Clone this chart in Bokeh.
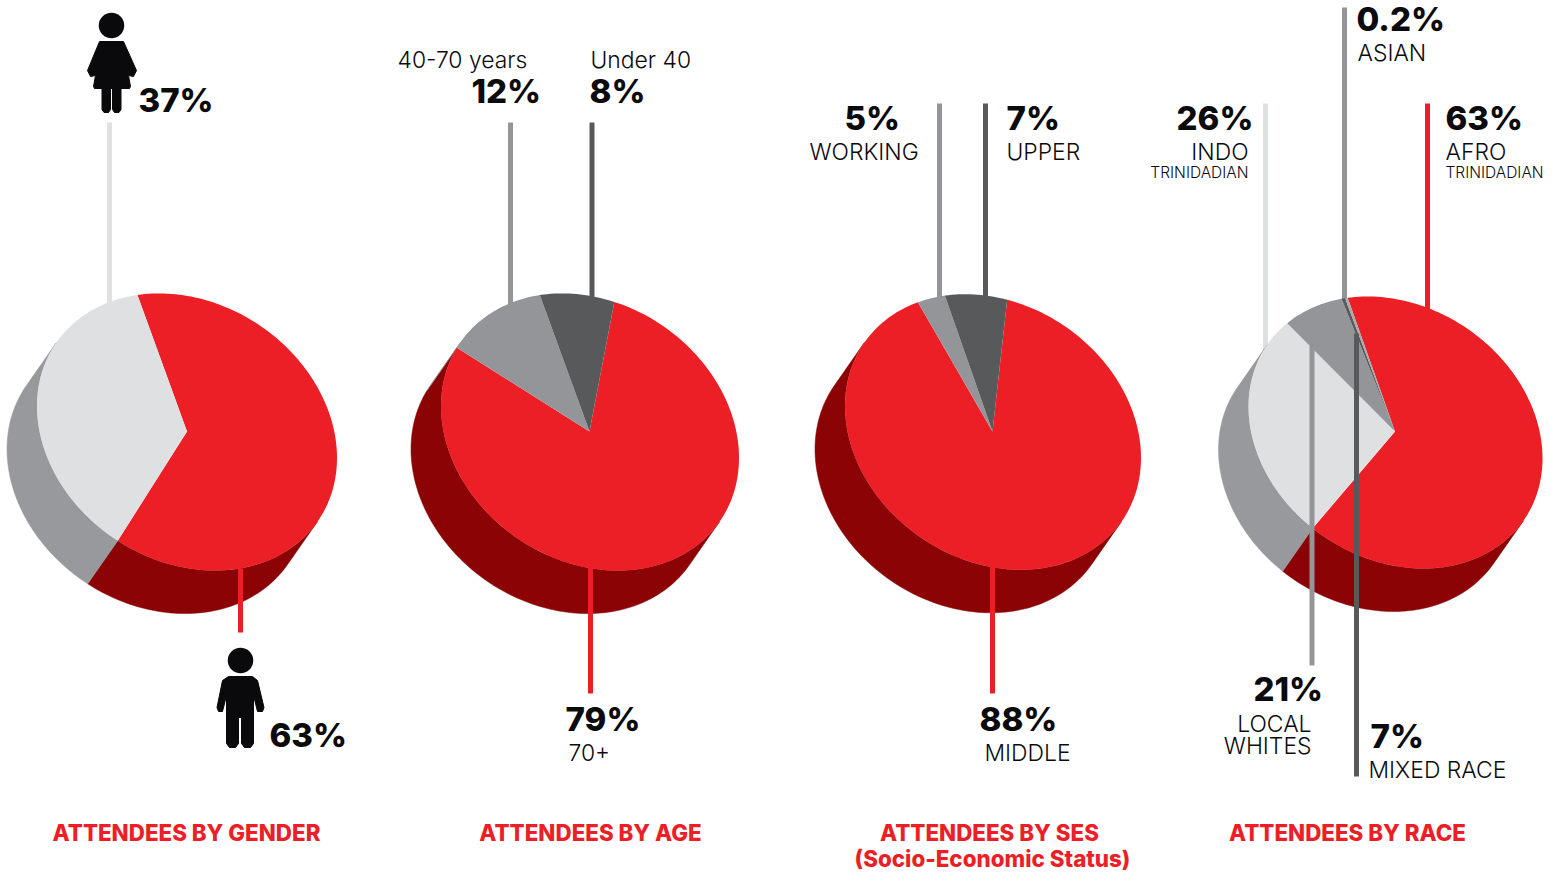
import numpy as np
from bokeh.plotting import figure
from bokeh.models import Range1d, ColumnDataSource
from bokeh.embed import file_html
from bokeh.resources import INLINE

# ---- data ----
gender_shares = [63, 37]
age_shares = [79, 12, 8]
ses_shares = [90, 3.2, 6.8]
race_shares = [64.8, 27.3, 7.2, 0.4, 0.3]

RED, DARKRED, LIGHT, MID, DARK, SIDE = "#EC1F27", "#8B0304", "#DFE0E2", "#939598", "#58595B", "#98999C"
gender_colors = [RED, LIGHT]
age_colors = [RED, MID, DARK]
ses_colors = [RED, MID, DARK]
race_colors = [RED, LIGHT, MID, DARK, "#A7A9AC"]

# centre x, centre y, half width, half height, apex x, shares, colours, start angle
pies = [
    (186.5, 431.5, 150.0, 138.6, 186.5, gender_shares, gender_colors, -109.3),
    (589.5, 431.5, 149.0, 138.6, 589.0, age_shares, age_colors, -80.6),
    (992.5, 431.5, 148.0, 137.8, 992.0, ses_shares, ses_colors, -84.5),
    (1395.0, 432.0, 147.0, 136.0, 1394.5, race_shares, race_colors, -109.0),
]

NUM, LAB, HEAD = 33, 22.9, 22.35
SMALL = 15.5
LF, BF = "Inter Light", "Inter ExtraBold"
BLACK = "#0B0B0D"
# text, x, y, align, size, font, color
labels = [
    ("37%", 138, 99, "left", NUM, BF, BLACK),
    ("63%", 269, 734, "left", NUM, BF, BLACK),
    ("40-70 years", 397, 59, "left", LAB, LF, BLACK),
    ("12%", 471, 90, "left", NUM, BF, BLACK),
    ("Under 40", 590, 59, "left", LAB, LF, BLACK),
    ("8%", 589, 90, "left", NUM, BF, BLACK),
    ("79%", 565, 718, "left", NUM, BF, BLACK),
    ("70+", 568, 752, "left", LAB, LF, BLACK),
    ("5%", 844, 117, "left", NUM, BF, BLACK),
    ("WORKING", 809, 151, "left", LAB, LF, BLACK),
    ("7%", 1006, 117, "left", NUM, BF, BLACK),
    ("UPPER", 1006, 151, "left", LAB, LF, BLACK),
    ("88%", 979, 718, "left", NUM, BF, BLACK),
    ("MIDDLE", 984, 752, "left", LAB, LF, BLACK),
    ("26%", 1176, 117, "left", NUM, BF, BLACK),
    ("INDO", 1248, 151, "right", LAB, LF, BLACK),
    ("TRINIDADIAN", 1248, 172, "right", SMALL, LF, BLACK),
    ("63%", 1445, 117, "left", NUM, BF, BLACK),
    ("AFRO", 1445, 151, "left", LAB, LF, BLACK),
    ("TRINIDADIAN", 1445, 172, "left", SMALL, LF, BLACK),
    ("0.2%", 1356, 18, "left", NUM, BF, BLACK),
    ("ASIAN", 1357, 52, "left", LAB, LF, BLACK),
    ("21%", 1253, 688, "left", NUM, BF, BLACK),
    ("LOCAL", 1311, 723, "right", LAB, LF, BLACK),
    ("WHITES", 1311, 745, "right", LAB, LF, BLACK),
    ("7%", 1370, 735, "left", NUM, BF, BLACK),
    ("MIXED RACE", 1368, 769, "left", LAB, LF, BLACK),
    ("ATTENDEES BY GENDER", 186, 832, "center", HEAD, BF, RED),
    ("ATTENDEES BY AGE", 590, 832, "center", HEAD, BF, RED),
    ("ATTENDEES BY SES", 989, 832, "center", HEAD, BF, RED),
    ("(Socio-Economic Status)", 992, 858, "center", HEAD, BF, RED),
    ("ATTENDEES BY RACE", 1347, 832, "center", HEAD, BF, RED),
]

# leader lines: x, y0, y1, color
lines_behind = [
    (109, 122, 305, LIGHT),
    (510, 122, 308, MID),
    (591.5, 122, 300, DARK),
    (939, 103, 302, MID),
    (985, 103, 300, DARK),
    (1265, 103, 350, LIGHT),
    (1344, 7, 300, MID),
    (1427, 103, 312, RED),
]
lines_front = [
    (240, 568, 632, RED),
    (590, 566, 693, RED),
    (992, 564, 693, RED),
    (1311.5, 345, 665, MID),
    (1356, 333, 776, DARK),
]

# ---- page-pixel coordinate figure ----
W, H = 1556, 873
p = figure(width=W, height=H, x_range=Range1d(0, W), y_range=Range1d(H, 0),
           output_backend="svg", toolbar_location=None,
           x_axis_location=None, y_axis_location=None, min_border=0,
           outline_line_color=None, background_fill_color=None, border_fill_color=None)
p.grid.visible = False


def seg(rows):
    p.segment([r[0] for r in rows], [r[1] for r in rows], [r[0] for r in rows], [r[2] for r in rows],
              line_color=[r[3] for r in rows], line_width=5, line_cap="butt")


seg(lines_behind)

# tilted disc: an affine image of a circle
SKEW = 25.85
DEPTH = (-30.0, 43.0)


def rim(cx, cy, rx, ry, deg):
    t = np.radians(deg)
    return cx + rx * np.cos(t), cy + SKEW * np.cos(t) + np.sqrt(ry ** 2 - SKEW ** 2) * np.sin(t)


for cx, cy, rx, ry, apex, shares, colors, start in pies:
    L22 = np.sqrt(ry ** 2 - SKEW ** 2)
    # rim angles between which the wall faces the viewer
    T0 = np.degrees(np.arctan2(L22 * DEPTH[0], -rx * DEPTH[1] + SKEW * DEPTH[0])) % 180
    T1 = T0 + 180
    s = np.array(shares, dtype=float)
    sweeps = s / s.sum() * 360
    edges = start + np.concatenate([[0], np.cumsum(sweeps)])
    # side walls: one simple polygon per wedge, front-facing part only
    xs, ys, cs = [], [], []
    for a0, a1, c in zip(edges[:-1], edges[1:], colors):
        wall = DARKRED if c == RED else SIDE
        for k in (-360, 0, 360):
            b0, b1 = max(a0, T0 + k), min(a1, T1 + k)
            if b1 <= b0:
                continue
            ang = np.linspace(b0, b1, max(2, int((b1 - b0) / 1.5) + 2))
            x, y = rim(cx, cy, rx, ry, ang)
            xs.append(list(x) + list((x + DEPTH[0])[::-1]))
            ys.append(list(y) + list((y + DEPTH[1])[::-1]))
            cs.append(wall)
    p.patches(xs, ys, fill_color=cs, line_color=cs, line_width=0.5)
    # top face
    xs, ys = [], []
    for a0, a1 in zip(edges[:-1], edges[1:]):
        ang = np.linspace(a0, a1, max(2, int((a1 - a0) / 1.5) + 2))
        x, y = rim(cx, cy, rx, ry, ang)
        xs.append([apex] + list(x))
        ys.append([431.0] + list(y))
    p.patches(xs, ys, fill_color=colors, line_color=None)

seg(lines_front)

# pictograms
ICON = "#0A0A0C"
p.ellipse([111, 240], [25, 660], width=25.5, height=25.5, fill_color=ICON, line_color=None)
dress_x = [99, 123, 136, 133, 128, 130, 129, 94, 93, 95, 90, 87]
dress_y = [41, 41, 70, 76, 75, 86, 88, 88, 86, 75, 76, 70]
man_x = [228, 252, 257, 263.5, 262, 257, 253, 253, 250, 244, 241, 241, 238, 238, 235, 229, 226, 226, 222, 218, 216.5, 222]
man_y = [676, 676, 680, 707, 711, 711, 695, 743, 747, 747, 743, 717, 717, 743, 747, 747, 743, 695, 711, 711, 707, 680]
leg1_x = [101.5, 110, 110, 108, 103.5, 101.5]
leg2_x = [112, 120.5, 120.5, 118.5, 114, 112]
leg_y = [87, 87, 109, 112, 112, 109]
p.patches([dress_x, man_x, leg1_x, leg2_x], [dress_y, man_y, leg_y, leg_y], fill_color=ICON, line_color=ICON, line_width=1, line_join="round")

src = ColumnDataSource(dict(
    text=[r[0] for r in labels], x=[r[1] for r in labels], y=[r[2] for r in labels],
    align=[r[3] for r in labels], size=[f"{r[4]}px" for r in labels],
    font=[r[5] for r in labels], color=[r[6] for r in labels]))
p.text(x="x", y="y", text="text", source=src, text_align="align", text_baseline="middle",
       text_font="font", text_font_size="size", text_color="color")

open("out.html", "w").write(file_html(p, INLINE))
